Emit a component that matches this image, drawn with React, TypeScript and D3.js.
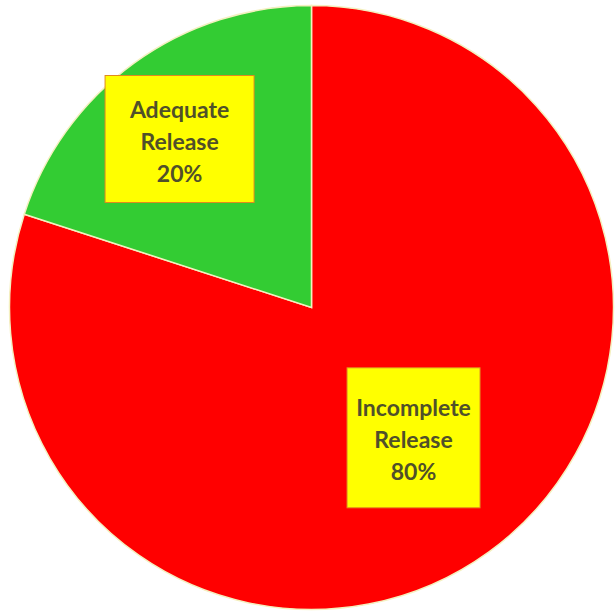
import React from "react";
import * as d3 from "d3";

const categories = ["Incomplete Release", "Adequate Release"];
const values = [80, 20];
const labelLines = [
  ["Incomplete", "Release", "80%"],
  ["Adequate", "Release", "20%"],
];
const colors = ["#ff0000", "#33cc33"];

const W = 616;
const H = 613;
const cx = 311.5;
const cy = 307.5;
const R = 302;

export default function App() {
  const pie = d3
    .pie<number>()
    .sort(null)
    .value((d) => d)
    .startAngle(0)
    .endAngle(2 * Math.PI);
  const arcs = pie(values);
  const arc = d3.arc<d3.PieArcDatum<number>>().innerRadius(0).outerRadius(R);
  // label placement (radius of label centre per slice)
  const labelR = [165.5, 214];
  const angleShift = -0.036;
  const boxSize = [
    [133, 140],
    [149, 127],
  ];
  const lineGap = 32;
  return (
    <svg
      width={W}
      height={H}
      style={{ position: "absolute", left: 0, top: 0, background: "#fff" }}
    >
      <g transform={`translate(${cx},${cy})`}>
        {arcs.map((a, i) => (
          <path
            key={categories[i]}
            d={arc(a) || ""}
            fill={colors[i]}
            stroke="#f4f0c0"
            strokeWidth={1.5}
          />
        ))}
        {arcs.map((a, i) => {
          const mid = (a.startAngle + a.endAngle) / 2 + angleShift;
          const lx = labelR[i] * Math.sin(mid);
          const ly = -labelR[i] * Math.cos(mid);
          const [bw, bh] = boxSize[i];
          const lines = labelLines[i];
          return (
            <g key={"l" + i} transform={`translate(${lx},${ly})`}>
              <rect
                x={-bw / 2}
                y={-bh / 2}
                width={bw}
                height={bh}
                fill="#ffff00"
                stroke="#e08a20"
                strokeWidth={1}
              />
              {lines.map((t, j) => (
                <text
                  key={j}
                  x={0}
                  y={(j - (lines.length - 1) / 2) * lineGap + 1.5}
                  textAnchor="middle"
                  dominantBaseline="central"
                  fontFamily="Lato, 'Open Sans', sans-serif"
                  fontWeight="bold"
                  fontSize={23}
                  fill="#50502a"
                >
                  {t}
                </text>
              ))}
            </g>
          );
        })}
      </g>
    </svg>
  );
}
